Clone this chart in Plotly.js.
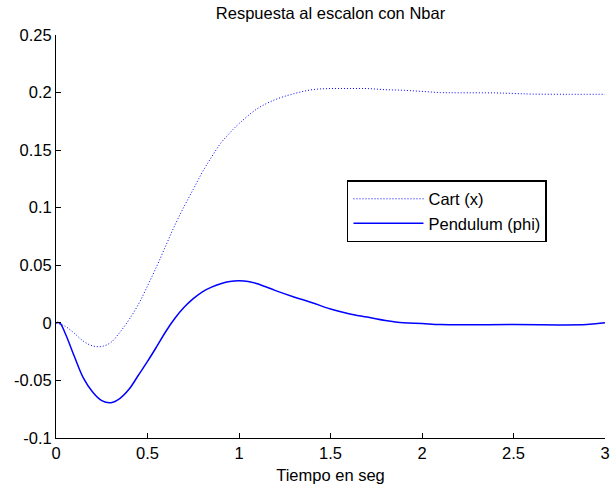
<!DOCTYPE html>
<html>
<head>
<meta charset="utf-8">
<script src="https://cdn.plot.ly/plotly-3.0.1.min.js"></script>
<style>html,body{margin:0;padding:0;background:#fff;}#chart{width:611px;height:490px;}</style>
</head>
<body>
<div id="chart"></div>
<script>
const cartT = [0, 0.05, 0.1, 0.15, 0.2, 0.25, 0.3, 0.35, 0.4, 0.45, 0.5, 0.55, 0.6, 0.65, 0.7, 0.75, 0.8, 0.85, 0.9, 0.95, 1.0, 1.1, 1.2, 1.3, 1.4, 1.5, 1.6, 1.7, 1.8, 1.9, 2.0, 2.1, 2.2, 2.4, 2.5, 2.6, 2.8, 3.0];
const cartX = [0, -0.003, -0.009, -0.016, -0.020, -0.0205, -0.017, -0.008, 0.003, 0.016, 0.032, 0.049, 0.067, 0.085, 0.101, 0.116, 0.131, 0.144, 0.156, 0.165, 0.173, 0.186, 0.194, 0.199, 0.2025, 0.2035, 0.2035, 0.2035, 0.2025, 0.202, 0.201, 0.2, 0.1998, 0.1997, 0.1992, 0.1987, 0.1985, 0.1985];

const pendT = [0, 0.02, 0.05, 0.1, 0.15, 0.2, 0.25, 0.3, 0.35, 0.4, 0.45, 0.5, 0.55, 0.6, 0.65, 0.7, 0.75, 0.8, 0.85, 0.9, 0.95, 1.0, 1.05, 1.1, 1.2, 1.3, 1.4, 1.5, 1.6, 1.7, 1.8, 1.9, 2.0, 2.1, 2.5, 2.9, 3.0];
const pendPhi = [0, 0, -0.009, -0.029, -0.048, -0.060, -0.0675, -0.0693, -0.0655, -0.0575, -0.0455, -0.0335, -0.0207, -0.0075, 0.004, 0.0135, 0.021, 0.027, 0.031, 0.034, 0.036, 0.0365, 0.036, 0.034, 0.028, 0.0225, 0.0175, 0.012, 0.008, 0.005, 0.002, 0.0, -0.0005, -0.0015, -0.0015, -0.0015, 0.0];

const xTickVals = [0, 0.5, 1, 1.5, 2, 2.5, 3];
const xTickText = ["0", "0.5", "1", "1.5", "2", "2.5", "3"];
const yTickVals = [-0.1, -0.05, 0, 0.05, 0.1, 0.15, 0.2, 0.25];
const yTickText = ["-0.1", "-0.05", "0", "0.05", "0.1", "0.15", "0.2", "0.25"];

const FONT = "Liberation Sans, Arial, Helvetica, sans-serif";

const traces = [
  {x: cartT, y: cartX, type: "scatter", mode: "lines", name: "Cart (x)",
   line: {color: "#0000ff", width: 1, dash: "1px,2px", shape: "spline"}},
  {x: pendT, y: pendPhi, type: "scatter", mode: "lines", name: "Pendulum (phi)",
   line: {color: "#0000ff", width: 1.5, shape: "spline"}}
];

const layout = {
  width: 611, height: 490,
  margin: {l: 56, r: 6, t: 35, b: 52},
  paper_bgcolor: "#fff", plot_bgcolor: "#fff",
  font: {family: FONT, size: 16, color: "#000"},
  title: {text: "Respuesta al escalon con Nbar", font: {family: FONT, size: 16.5, color: "#000"},
          x: 0.5, xref: "paper", y: 0.972, yanchor: "middle"},
  showlegend: true,
  legend: {x: 0.53, y: 0.64, xanchor: "left", yanchor: "top", bgcolor: "#fff",
           bordercolor: "#000", borderwidth: 1.5, font: {family: FONT, size: 16.5, color: "#000"},
           tracegroupgap: 0, itemwidth: 70},
  xaxis: {range: [0, 3], tickvals: xTickVals, ticktext: xTickText, ticks: "inside", ticklen: 5,
          tickcolor: "#000", showline: true, linecolor: "#000", linewidth: 1, mirror: false,
          showgrid: false, zeroline: false, tickfont: {family: FONT, size: 16.5, color: "#000"},
          title: {text: "Tiempo en seg", font: {family: FONT, size: 16.5, color: "#000"}, standoff: 8}},
  yaxis: {range: [-0.1, 0.25], tickvals: yTickVals, ticktext: yTickText, ticks: "inside", ticklen: 5,
          tickcolor: "#000", showline: true, linecolor: "#000", linewidth: 1, mirror: false,
          showgrid: false, zeroline: false, tickfont: {family: FONT, size: 16.5, color: "#000"}}
};

Plotly.newPlot("chart", traces, layout, {displayModeBar: false, staticPlot: true});
</script>
</body>
</html>
